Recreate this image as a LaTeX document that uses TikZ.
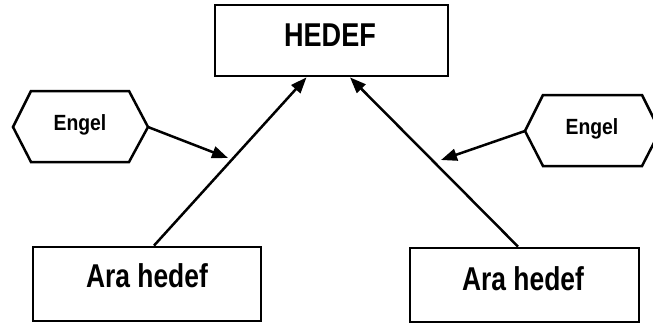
\documentclass[tikz,border=0pt]{standalone}
\usepackage{fontspec}
\setmainfont{Liberation Sans}
\usetikzlibrary{arrows.meta}

\tikzset{
  goalbox/.style={draw, line width=2.8pt, rectangle, inner sep=0pt},
  hexline/.style={draw, line width=2.5pt, line join=miter},
  link/.style={line width=2.5pt, -{Triangle[length=16pt,width=12pt]}},
  bigtext/.style={font=\bfseries\fontsize{33}{33}\selectfont, inner sep=0pt},
  smalltext/.style={font=\bfseries\fontsize{22}{22}\selectfont, inner sep=0pt}
}

\begin{document}
\begin{tikzpicture}[x=1pt,y=-1pt]
  \useasboundingbox (0,0) rectangle (653,324);
  \clip (0,0) rectangle (653,324);

  % main goal and the two intermediate goals
  \node[goalbox, minimum width=233pt, minimum height=71pt] (hedef) at (331.5,40.5) {};
  \node[goalbox, minimum width=228pt, minimum height=74pt] (araL) at (147,284) {};
  \node[goalbox, minimum width=229pt, minimum height=74pt] (araR) at (524.5,285) {};

  \node[bigtext] (hedefT) at (330,35) {\scalebox{0.82}[1]{HEDEF}};
  \node[bigtext] (araLT) at (147,276) {\scalebox{0.8}[1]{Ara hedef}};
  \node[bigtext] (araRT) at (523,279) {\scalebox{0.8}[1]{Ara hedef}};

  % obstacle hexagons
  \draw[hexline] (13,127) -- (31,91) -- (129,91) -- (148,127) -- (129,162) -- (31,162) -- cycle;
  \draw[hexline] (525,131) -- (543,95) -- (642,95) -- (660,131) -- (642,166) -- (543,166) -- cycle;
  \coordinate (engelLtip) at (148,127);
  \coordinate (engelRtip) at (525,131);
  \node[smalltext] (engelL) at (80,125) {\scalebox{0.88}[1]{Engel}};
  \node[smalltext] (engelR) at (592,128.5) {\scalebox{0.88}[1]{Engel}};

  % targets of the obstacle arrows
  \coordinate (hitL) at (228,158);
  \coordinate (hitR) at (441,160);

  % connectors
  \draw[link] ([xshift=7pt]araL.north) -- ([xshift=-25pt]hedef.south);
  \draw[link] ([xshift=-6.5pt]araR.north) -- ([xshift=18.5pt]hedef.south);
  \draw[link] (engelLtip) -- (hitL);
  \draw[link] (engelRtip) -- (hitR);
\end{tikzpicture}
\end{document}
